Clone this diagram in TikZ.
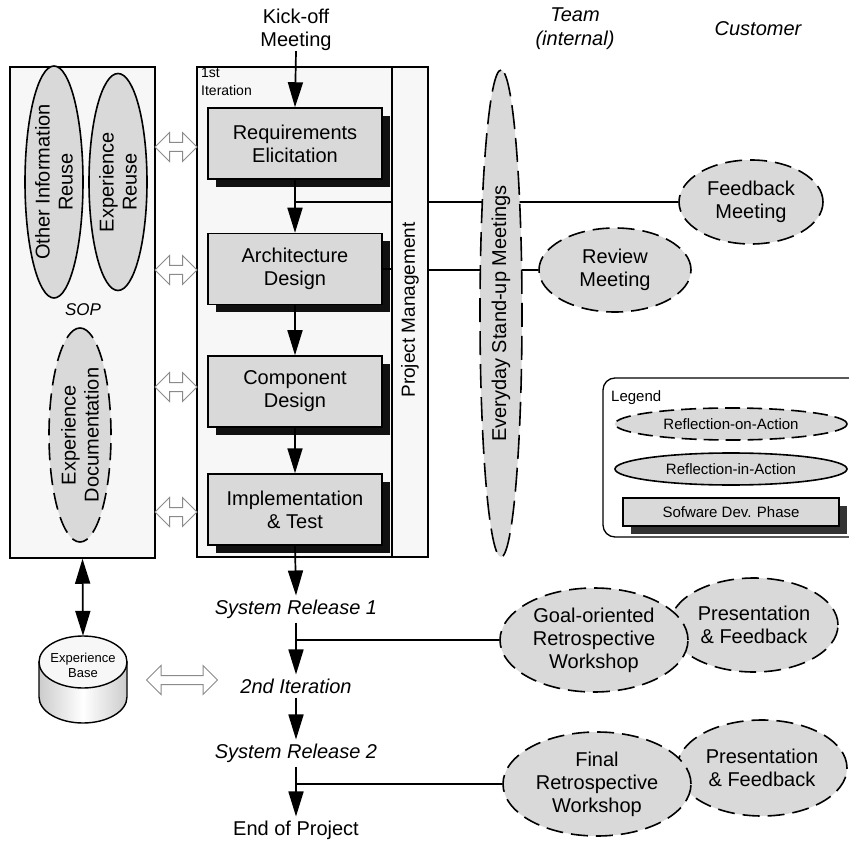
\documentclass[tikz,border=0pt]{standalone}
\usepackage{fontspec}
\setmainfont{Liberation Sans}
\usetikzlibrary{shapes.geometric,shapes.arrows,shadows,arrows.meta}
\definecolor{boxgray}{HTML}{D9D9D9}
\definecolor{ellgray}{HTML}{D9D9D9}
\definecolor{shadowc}{HTML}{111111}
\definecolor{legshadow}{HTML}{333333}
\definecolor{panelbg}{HTML}{F7F7F7}
\definecolor{hollowc}{HTML}{8A8A8A}
\begin{document}
\begin{tikzpicture}[x=1pt,y=-1pt,
  every node/.style={inner sep=0pt, align=center},
  big/.style={font=\fontsize{20}{23}\selectfont},
  bigit/.style={font=\fontsize{20}{24}\selectfont\itshape},
  small/.style={font=\fontsize{14}{18}\selectfont},
  phasebox/.style={draw=black, line width=1.5pt, fill=boxgray, minimum width=174pt, minimum height=71pt,
     general shadow={fill=shadowc, shadow xshift=8pt, shadow yshift=-8pt}, big},
  refon/.style={ellipse, draw=black, dash pattern=on 17pt off 8pt, line width=1.6pt, fill=ellgray},
  refin/.style={ellipse, draw=black, line width=1.6pt, fill=ellgray},
  flow/.style={-{Triangle[length=25pt,width=15pt]}, line width=1.7pt},
  link/.style={line width=1.5pt},
  hollow/.style={double arrow, draw=hollowc, fill=white, line width=1pt, double arrow head extend=10pt,
     minimum width=28pt, inner sep=4pt, double arrow head indent=0pt},
  panel/.style={draw=black, line width=1.5pt, fill=panelbg}
]
\useasboundingbox (0,0) rectangle (849,842);

% ---------- SOP panel ----------
\node[panel, minimum width=145pt, minimum height=491pt] (sop) at (82.5,312.5) {};
\node[refin, rotate=90, minimum width=232pt, minimum height=58pt, inner ysep=-6pt, big] (oir) at (54,182) {Other Information\\Reuse};
\node[refin, rotate=90, minimum width=217pt, minimum height=58pt, inner ysep=-6pt, big] (eru) at (118,182) {Experience\\Reuse};
\node[font=\fontsize{17}{20}\selectfont\itshape] (soplbl) at (83,310) {SOP};
\node[refon, rotate=90, minimum width=214pt, minimum height=62pt, inner ysep=-5pt, big] (edoc) at (80,435) {Experience\\Documentation};

% ---------- Iteration panel ----------
\node[panel, minimum width=231pt, minimum height=490pt] (iter) at (312.5,312) {};
\node[panel, minimum width=36pt, minimum height=490pt] (pm) at (410,312) {};
\node[rotate=90, font=\fontsize{19}{22}\selectfont] (pmlbl) at (410,310) {Project Management};
\node[small, anchor=north west, align=left] (itlbl) at (201,68) {1st\\Iteration};

\node[big] (kick) at (296,30) {Kick-off\\Meeting};
\node[phasebox] (req) at (295,143.5) {Requirements\\Elicitation};
\node[phasebox] (arch) at (295,269) {Architecture\\Design};
\node[phasebox] (comp) at (295,391.5) {Component\\Design};
\node[phasebox] (impl) at (295,509.5) {Implementation\\\& Test};

\draw[flow] (kick.south) -- (req.north);
\draw[flow] (req.south) -- (arch.north);
\draw[flow] (arch.south) -- (comp.north);
\draw[flow] (comp.south) -- (impl.north);

% hollow arrows SOP <-> iteration
\node[hollow, minimum height=42pt] (h1) at (176,147) {};
\node[hollow, minimum height=42pt] (h2) at (176,270) {};
\node[hollow, minimum height=42pt] (h3) at (176,387) {};
\node[hollow, minimum height=42pt] (h4) at (176,512) {};

% ---------- team / customer ----------
\node[bigit] (team) at (575,29) {Team\\(internal)};
\node[bigit] (cust) at (758,29) {Customer};

\coordinate (b1) at (295,202);
\draw[link] (b1) -- (b1 -| pm.west);
\node[refon, big, minimum width=144pt, minimum height=84pt] (fb) at (751,202) {Feedback\\Meeting};
\node[refon, big, minimum width=152pt, minimum height=84pt] (rv) at (615,270) {Review\\Meeting};
\draw[link] (fb.west -| pm.east) -- (fb.west);
\draw[link] (arch.east) -- (arch.east -| pm.west);
\draw[link] (rv.west -| pm.east) -- (rv.west);
\node[refon, rotate=90, minimum width=487pt, minimum height=42pt, big, dash pattern=on 24pt off 9pt] (su) at (501,313.5) {Everyday Stand-up Meetings};

% ---------- Legend ----------
\draw[rounded corners=12pt, line width=1.3pt, fill=white] (603,378) rectangle (880,537);
\node[font=\fontsize{15}{18}\selectfont, anchor=west] (leg) at (611,398) {Legend};
\node[refon, font=\fontsize{15}{18}\selectfont, minimum width=232pt, minimum height=32pt, dash pattern=on 15pt off 7pt] (lon) at (731,424) {Reflection-on-Action};
\node[refin, font=\fontsize{15}{18}\selectfont, minimum width=232pt, minimum height=32pt] (lin) at (731,469) {Reflection-in-Action};
\node[draw=black, line width=1.3pt, fill=boxgray, minimum width=216pt, minimum height=28pt,
     general shadow={fill=legshadow, shadow xshift=8pt, shadow yshift=-8pt}, font=\fontsize{15}{18}\selectfont] (lph) at (731,512) {Sofware Dev. Phase};

% ---------- Experience base ----------
\node[minimum width=88pt, minimum height=87pt] (eb) at (83,679.5) {};
\path[draw=black, line width=1.4pt, left color=gray!40, right color=gray!40, middle color=white]
  (39,662) -- (39,697) arc[start angle=180, end angle=360, x radius=44pt, y radius=26pt] -- (127,662) -- cycle;
\draw[line width=1.4pt, fill=gray!6] (83,662) ellipse[x radius=44pt, y radius=26pt];
\node[font=\fontsize{13}{15}\selectfont] (ebt) at (83,665) {Experience\\Base};
\draw[line width=1.7pt, {Triangle[length=25pt,width=15pt]}-{Triangle[length=25pt,width=15pt]}] (sop.south) -- (eb.north);
\node[hollow, minimum height=71pt] (h5) at (182,680) {};

% ---------- later iterations ----------
\node[bigit, inner sep=4pt] (sr1) at (296,609) {System Release 1};
\node[bigit, inner sep=4pt] (it2) at (296,686) {2nd Iteration};
\node[bigit, inner sep=4pt] (sr2) at (296,753) {System Release 2};
\node[big, inner sep=4pt] (eop) at (296,830) {End of Project};
\draw[flow] (impl.south) -- (sr1.north);
\draw[flow] (sr1.south) -- (it2.north);
\draw[flow] (it2.south) -- (sr2.north);
\draw[flow] (sr2.south) -- (eop.north);

\node[refon, big, minimum width=168pt, minimum height=94pt] (pf1) at (754,625) {Presentation\\\& Feedback};
\node[refon, big, minimum width=188pt, minimum height=104pt] (gow) at (594,640) {Goal-oriented\\Retrospective\\Workshop};
\node[refon, big, minimum width=170pt, minimum height=96pt] (pf2) at (762,768) {Presentation\\\& Feedback};
\node[refon, big, minimum width=188pt, minimum height=104pt] (fin) at (597,784) {Final\\Retrospective\\Workshop};
\draw[link] (gow.west -| sr1.south) -- (gow.west);
\draw[link] (fin.west -| sr2.south) -- (fin.west);
\end{tikzpicture}
\end{document}
